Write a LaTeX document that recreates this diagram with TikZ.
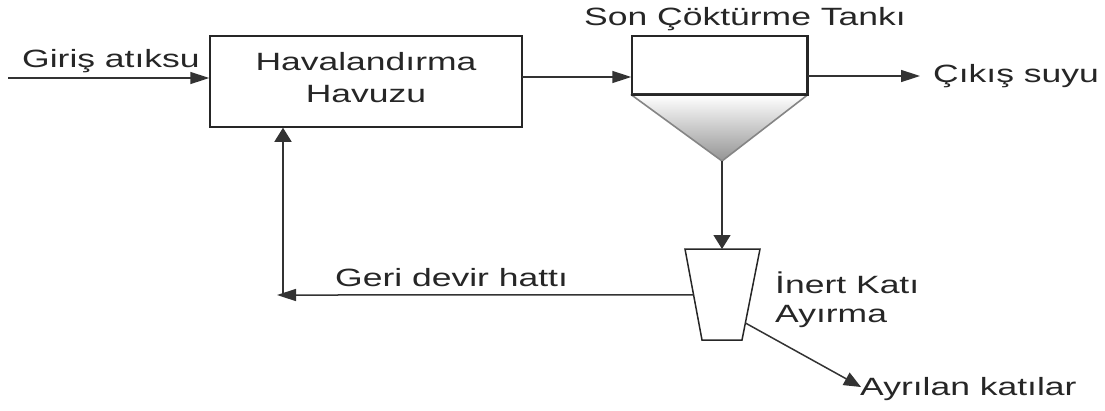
\documentclass[tikz,border=0pt]{standalone}
\usepackage{fontspec}
\setmainfont{Liberation Sans}[FakeStretch=1.42]
\usetikzlibrary{arrows.meta,calc}
\tikzset{
  box/.style={draw=black!85, line width=1.5pt, inner sep=0pt},
  txt/.style={inner sep=0pt, anchor=base west, font=\fontsize{25}{32}\selectfont, text=black!85},
  ctxt/.style={txt, anchor=base},
  ln/.style={draw=black!80, line width=1.5pt},
  harr/.style={ln, -{Triangle[length=19pt,width=12pt]}},
  varr/.style={ln, -{Triangle[length=14pt,width=17pt]}},
  darr/.style={ln, -{Triangle[length=17pt,width=14pt]}},
}
\begin{document}
\begin{tikzpicture}[x=1pt,y=-1pt]
\path[use as bounding box] (0,0) rectangle (1105,410);
% aeration basin
\node[box, minimum width=312pt, minimum height=91pt] (hav) at (366,81.5) {};
\node[ctxt] (hav1) at (366,70) {Havalandırma};
\node[ctxt] (hav2) at (366,102) {Havuzu};
% inlet
\coordinate (in) at (8,78);
\node[txt] (giris) at (22,67) {Giriş atıksu};
\draw[harr] (in) -- (in -| hav.west);
% settling tank
\node[box, minimum width=175pt, minimum height=58pt] (tank) at (719.5,65) {};
\coordinate (tbl) at (tank.south west);
\coordinate (tbr) at (tank.south east);
\coordinate (apex) at (722,161);
\path[top color=white, bottom color=black!42, draw=black!48, line width=1.6pt, line join=round]
  (tbl) -- (tbr) -- (apex) -- cycle;
\draw[box] (tank.south west) rectangle (tank.north east);
\node[txt] (sonlbl) at (584,25) {Son Çöktürme Tankı};
% basin -> tank
\coordinate (h2t) at (522,77);
\draw[harr] (h2t) -- (h2t -| tank.west);
% outlet
\coordinate (out) at (920,76);
\draw[harr] (out -| tank.east) -- (out);
\node[txt] (cikis) at (933,82) {Çıkış suyu};
% inert solids separator (trapezoid)
\coordinate (tl) at (685,249);
\coordinate (tr) at (760,249);
\coordinate (br) at (742,340);
\coordinate (bl) at (702,340);
\draw[box, line join=miter] (tl) -- (tr) -- (br) -- (bl) -- cycle;
\coordinate (ayirtop) at (722,249);
\draw[varr] (apex) -- (ayirtop);
\node[txt] (inert1) at (775,293) {İnert Katı};
\node[txt] (inert2) at (775,322) {Ayırma};
% return line
\coordinate (retstart) at ($(tl)!0.505!(bl)$);
\coordinate (retend) at (277,295);
\coordinate (corner) at (283,295);
\draw[harr] (retstart) -- (retend);
\draw[varr] (corner) -- (corner |- hav.south);
\node[txt] (geri) at (335,286) {Geri devir hattı};
% separated solids
\coordinate (solstart) at ($(tr)!0.813!(br)$);
\coordinate (solend) at (861,387);
\draw[darr] (solstart) -- (solend);
\node[txt] (ayrilan) at (860,395) {Ayrılan katılar};
\end{tikzpicture}
\end{document}
